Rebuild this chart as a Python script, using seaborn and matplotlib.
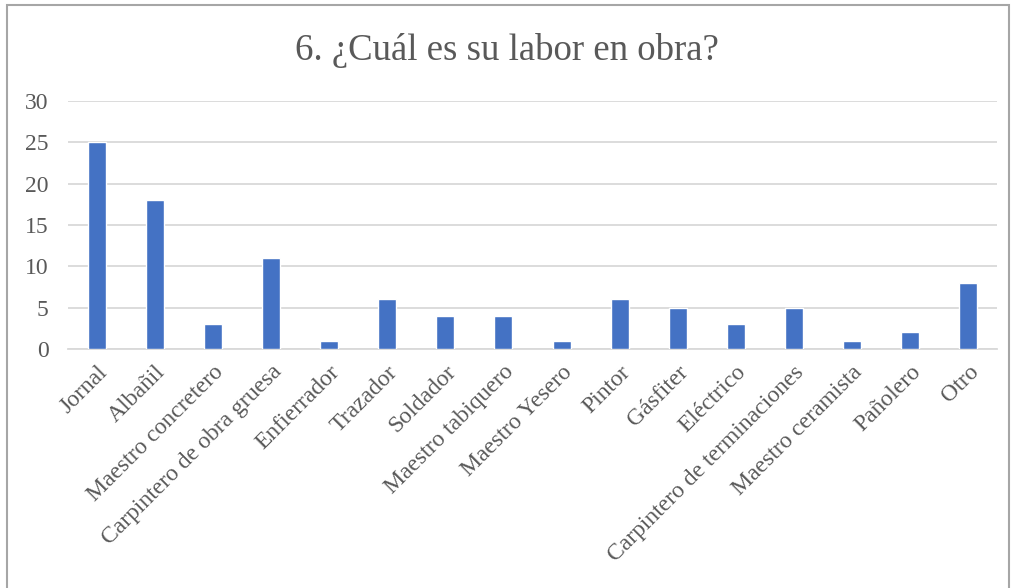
import pandas as pd
import seaborn as sns
import matplotlib.pyplot as plt
from matplotlib.patches import Rectangle

# Datos
labores = ["Jornal", "Albañil", "Maestro concretero", "Carpintero de obra gruesa",
           "Enfierrador", "Trazador", "Soldador", "Maestro tabiquero", "Maestro Yesero",
           "Pintor", "Gásfiter", "Eléctrico", "Carpintero de terminaciones",
           "Maestro ceramista", "Pañolero", "Otro"]
cantidad = [25, 18, 3, 11, 1, 6, 4, 4, 1, 6, 5, 3, 5, 1, 2, 8]
y_ticks = [0, 5, 10, 15, 20, 25, 30]

df = pd.DataFrame({"Labor": labores, "Cantidad": cantidad})

sns.set_style("white")
plt.rcParams['font.family'] = ['Liberation Serif', 'DejaVu Serif']
gris = '#595959'

fig = plt.figure(figsize=(10.13, 5.88), dpi=100)
ax = fig.add_axes([68 / 1013, 1 - 349 / 588, (997 - 68) / 1013, (349 - 101) / 588])

sns.barplot(data=df, x="Labor", y="Cantidad", color="#4472C4", width=0.31,
            saturation=1, ax=ax, zorder=3)

ax.set_ylim(0, 30)
ax.set_xlim(-0.5, len(labores) - 0.5)
ax.set_yticks(y_ticks)
ax.yaxis.grid(True, color='#D9D9D9', linewidth=1.3, zorder=0)
ax.set_axisbelow(True)
for s in ['top', 'right', 'left']:
    ax.spines[s].set_visible(False)
ax.spines['bottom'].set_color('#D9D9D9')
ax.spines['bottom'].set_linewidth(1.3)
ax.set_xlabel('')
ax.set_ylabel('')
ax.tick_params(axis='both', length=0, labelsize=17, colors=gris)
ax.tick_params(axis='y', pad=14)
ax.tick_params(axis='x', pad=9)
plt.setp(ax.get_xticklabels(), rotation=45, ha='right', rotation_mode='anchor')

fig.text(0.5, 1 - 51 / 588, "6. ¿Cuál es su labor en obra?", ha='center', va='center',
         fontsize=26.5, color=gris)

# Borde del grafico
fig.patches.append(Rectangle((7 / 1013, -0.05), (1009 - 7) / 1013, 1 - 5 / 588 + 0.05,
                             transform=fig.transFigure, fill=False,
                             edgecolor='#A6A6A6', linewidth=1.5))

fig.savefig("out.png", dpi=100)
